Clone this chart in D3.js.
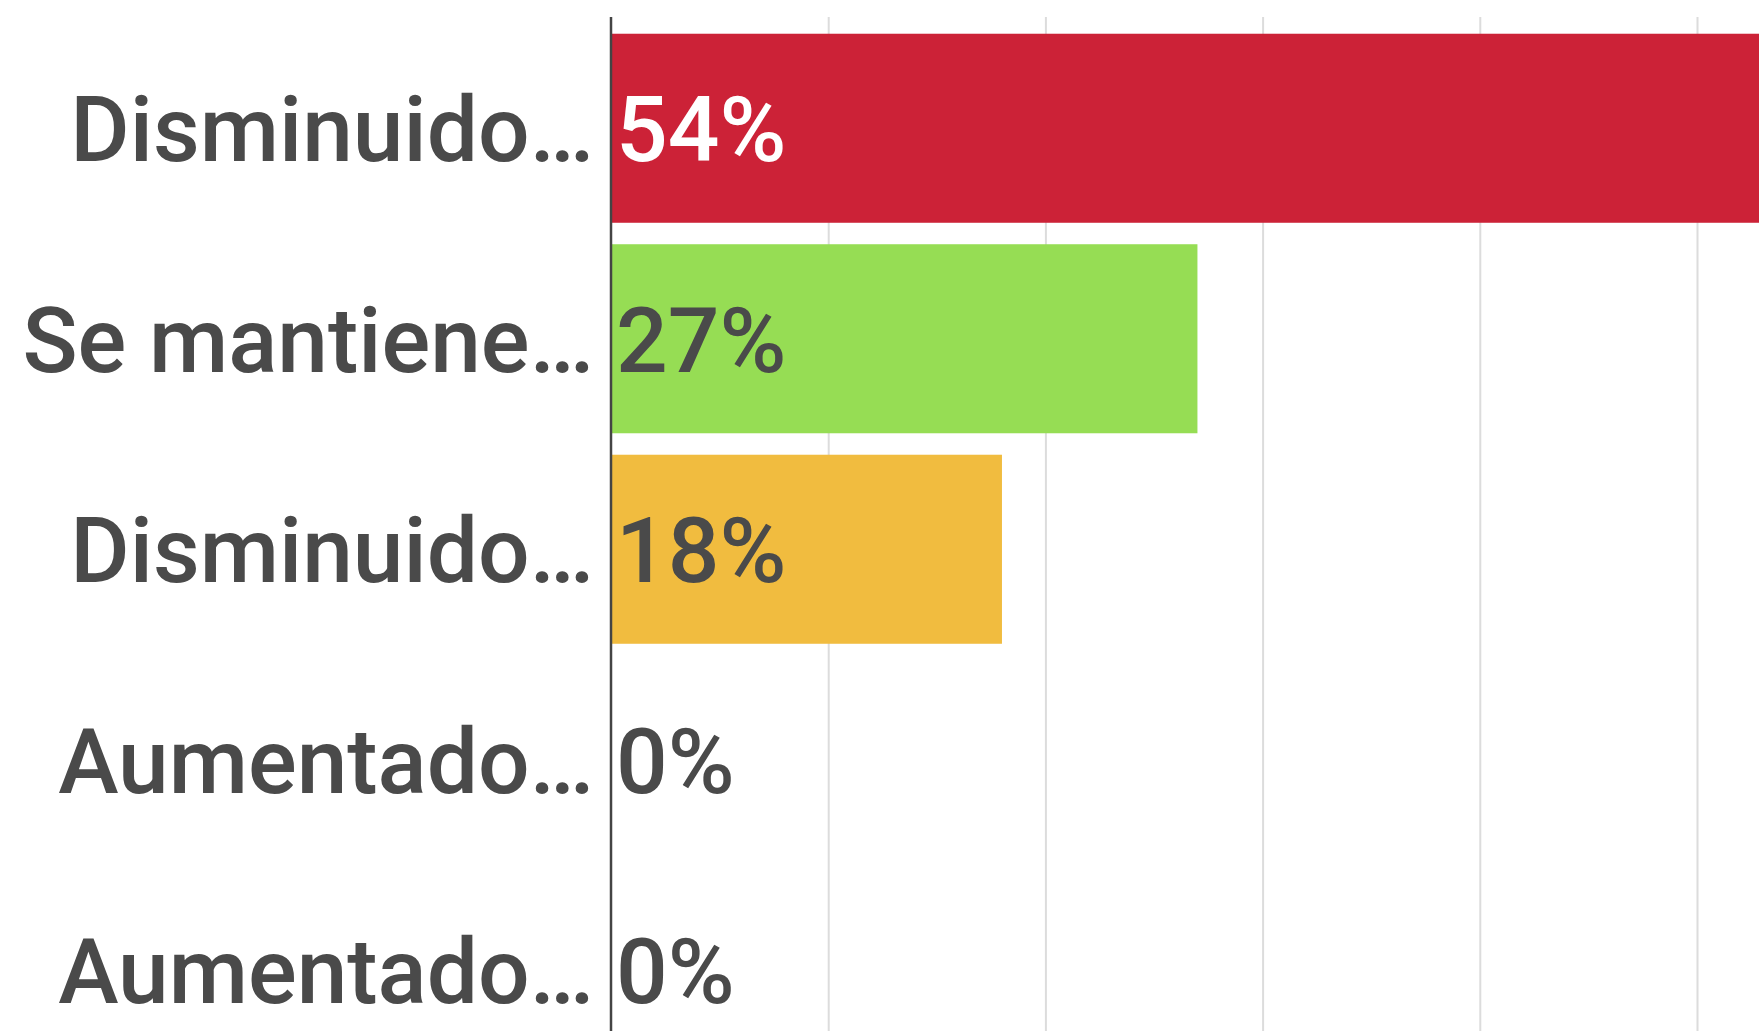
<!DOCTYPE html>
<html>
<head>
<meta charset="utf-8">
<script src="https://cdn.jsdelivr.net/npm/d3@7"></script>
<style>
  html, body { margin: 0; padding: 0; background: #fff; }
  svg { display: block; }
  text { font-family: Roboto, "Noto Sans", sans-serif; }
</style>
</head>
<body>
<svg id="chart" width="1759" height="1031"></svg>
<script>
// Answer categories (labels are truncated as shown on the axis)
const categories = ["Disminuido…", "Se mantiene…", "Disminuido… ", "Aumentado…", "Aumentado… "];
// Share of responses, in percent
const values = [54, 27, 18, 0, 0];
// Bar colours per category
const colors = ["#cc2237", "#96dd54", "#f1bc3f", "#96dd54", "#f1bc3f"];
// Value-axis ticks used for the vertical gridlines
const tickValues = [0, 10, 20, 30, 40, 50, 60];

const W = 1759, H = 1031;
const margin = { left: 611, top: 23 };

const svg = d3.select("#chart");

const x = d3.scaleLinear().domain([0, 60]).range([margin.left, margin.left + 60 * 21.72]);
const y = d3.scaleBand().domain(categories).range([margin.top, margin.top + 5 * 210.5]).paddingInner(0.102).paddingOuter(0.051);

// gridlines
svg.append("g")
  .attr("class", "grid")
  .attr("transform", `translate(0,${H})`)
  .call(d3.axisBottom(x).tickValues(tickValues.slice(1)).tickSize(-(H - 17)).tickFormat(""))
  .call(g => g.select(".domain").remove())
  .call(g => g.selectAll("line").attr("stroke", "#dcdcdc").attr("stroke-width", 2));

// bars
svg.append("g").selectAll("rect")
  .data(values)
  .join("rect")
  .attr("x", x(0))
  .attr("y", (d, i) => y(categories[i]))
  .attr("width", d => x(d) - x(0))
  .attr("height", y.bandwidth())
  .attr("fill", (d, i) => colors[i]);

// category axis
const yAxis = svg.append("g")
  .attr("transform", `translate(${margin.left},0)`)
  .call(d3.axisLeft(y).tickSize(0).tickPadding(17));
yAxis.select(".domain").remove();
yAxis.selectAll("text")
  .attr("font-size", 91)
  .attr("font-weight", 500)
  .attr("fill", "#4a4a4a")
  .attr("dy", "0.36em")
  .text(d => d.trim());

// axis baseline
svg.append("line")
  .attr("x1", x(0)).attr("x2", x(0))
  .attr("y1", 17).attr("y2", H)
  .attr("stroke", "#444").attr("stroke-width", 2.5);

// value labels
svg.append("g").selectAll("text")
  .data(values)
  .join("text")
  .attr("x", x(0) + 5)
  .attr("y", (d, i) => y(categories[i]) + y.bandwidth() / 2)
  .attr("dy", "0.36em")
  .attr("font-size", 91)
  .attr("font-weight", 500)
  .attr("fill", (d, i) => i === 0 ? "#ffffff" : "#4a4a4a")
  .text(d => d + "%");
</script>
</body>
</html>
